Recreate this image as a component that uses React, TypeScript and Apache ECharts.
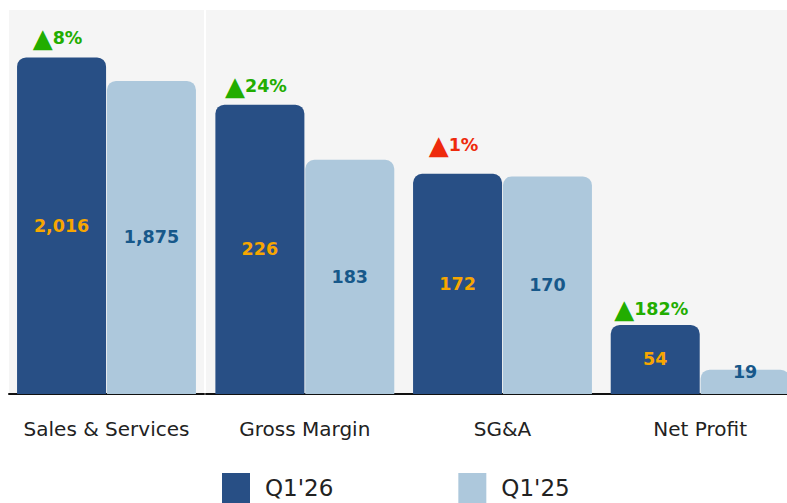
import React, { useEffect, useRef } from 'react';
import * as echarts from 'echarts';

const categories = ['Sales & Services', 'Gross Margin', 'SG&A', 'Net Profit'];
const q126 = [2016, 226, 172, 54];
const q125 = [1875, 183, 170, 19];
const growthLabels = ['8%', '24%', '1%', '182%'];
const growthFavourable = [true, true, false, true];
const seriesNames = ["Q1'26", "Q1'25"];
// first category drawn on its own scale (left panel), the rest share one scale
const panelMax = [2300, 300];

const DARK = '#284f85';
const LIGHT = '#adc8dc';
const GREEN = '#22ad00';
const RED = '#ee2a0c';
const FONT = 'DejaVu Sans';
// vertical nudges of the growth annotations (style only)
const growthNudgeY = [0, 0, -10, 3];

function fmt(v: number) {
  return v.toLocaleString('en-US');
}

export default function App() {
  const ref = useRef<HTMLDivElement>(null);
  useEffect(() => {
    if (!ref.current) return;
    const chart = echarts.init(ref.current, undefined, { renderer: 'svg' });
    const panels = [
      { start: 0, end: 1 },
      { start: 1, end: 4 },
    ];
    const series: any[] = [];
    panels.forEach((p, gi) => {
      const cats = categories.slice(p.start, p.end);
      series.push({
        type: 'bar',
        name: seriesNames[0],
        xAxisIndex: gi,
        yAxisIndex: gi,
        stack: 's' + gi,
        barWidth: 89,
        barGap: '1%',
        itemStyle: { color: DARK, borderRadius: [9, 9, 0, 0] },
        label: {
          show: true,
          position: 'inside',
          color: '#f7a600',
          fontFamily: FONT,
          fontWeight: 'bold',
          fontSize: 17.5,
          formatter: (prm: any) => fmt(prm.value),
        },
        data: q126.slice(p.start, p.end),
        z: 3,
      });
      series.push({
        type: 'bar',
        name: 'growth' + gi,
        xAxisIndex: gi,
        yAxisIndex: gi,
        stack: 's' + gi,
        barWidth: 89,
        barGap: '1%',
        itemStyle: { color: 'transparent' },
        label: {
          show: true,
          position: 'top',
          distance: 6,
          offset: [-4, 0],
          formatter: (prm: any) => {
            const i = p.start + prm.dataIndex;
            const k = growthFavourable[i] ? 'g' : 'r';
            return `{${k}t|▲}{${k}|${growthLabels[i]}}`;
          },
          rich: {
            gt: { color: GREEN, fontSize: 26, fontFamily: FONT },
            g: { color: GREEN, fontSize: 17.5, fontWeight: 'bold', fontFamily: FONT },
            rt: { color: RED, fontSize: 26, fontFamily: FONT },
            r: { color: RED, fontSize: 17.5, fontWeight: 'bold', fontFamily: FONT },
          },
        },
        data: cats.map((_, j) => ({
          value: 0,
          label: { offset: [-4, growthNudgeY[p.start + j]] },
        })),
        z: 4,
      });
      series.push({
        type: 'bar',
        name: seriesNames[1],
        xAxisIndex: gi,
        yAxisIndex: gi,
        barWidth: 89,
        barGap: '1%',
        itemStyle: { color: LIGHT, borderRadius: [9, 9, 0, 0] },
        label: {
          show: true,
          position: 'inside',
          color: '#17588a',
          fontFamily: FONT,
          fontWeight: 'bold',
          fontSize: 17.5,
          formatter: (prm: any) => fmt(prm.value),
        },
        data: q125.slice(p.start, p.end).map((v) =>
          v < 40 ? { value: v, label: { offset: [0, -10] } } : v
        ),
        z: 3,
      });
    });

    const option: any = {
      animation: false,
      backgroundColor: '#ffffff',
      textStyle: { fontFamily: FONT },
      grid: [
        { left: 9, top: 10, width: 195, height: 384, show: true, backgroundColor: '#f5f5f5', borderWidth: 0 },
        { left: 206, top: 10, width: 593, height: 384, show: true, backgroundColor: '#f5f5f5', borderWidth: 0 },
      ],
      xAxis: panels.map((p, gi) => ({
        type: 'category',
        gridIndex: gi,
        data: categories.slice(p.start, p.end),
        axisLine: { show: true, lineStyle: { color: '#111', width: 2 } },
        axisTick: { show: false },
        axisLabel: { color: '#222', fontSize: 20, fontFamily: FONT, margin: 25 },
      })),
      yAxis: panels.map((p, gi) => ({
        type: 'value',
        gridIndex: gi,
        min: 0,
        max: panelMax[gi],
        show: false,
        splitLine: { show: false },
      })),
      legend: {
        data: seriesNames,
        left: 222,
        top: 473,
        padding: 0,
        icon: 'rect',
        itemWidth: 28,
        itemHeight: 30,
        itemGap: 125,
        textStyle: { color: '#222', fontSize: 23, fontFamily: FONT, padding: [0, 0, 0, 10] },
      },
      series,
    };
    chart.setOption(option);
    return () => chart.dispose();
  }, []);
  return (
    <div style={{ position: 'fixed', left: 0, top: 0, width: 787, height: 503, overflow: 'hidden', background: '#fff' }}>
      <div ref={ref} style={{ width: 810, height: 530 }} />
    </div>
  );
}
